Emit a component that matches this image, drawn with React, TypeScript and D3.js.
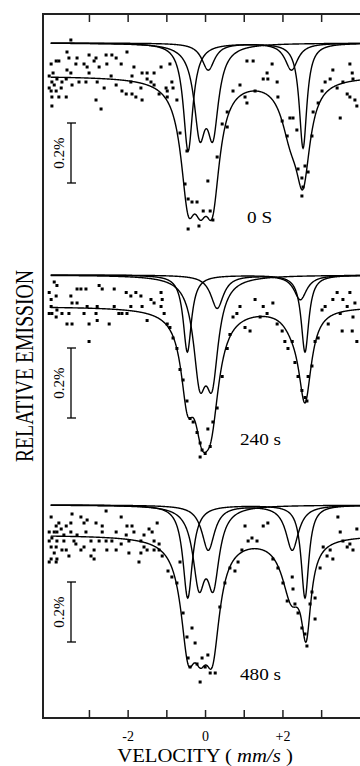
import * as d3 from "d3";

// velocity axis (mm/s)
const velocityTicks = [-3, -2, -1, 0, 1, 2, 3];
const velocityLabelValues = [-2, 0, 2];
const velocityLabels = ["-2", "0", "+2"];

// spectra, top to bottom
const panelLabels = ["0 S", "240 s", "480 s"];
// envelope drawn below the component curves (%)
const envelopeOffsets = [0.11, 0.09, 0.1];

// fitted Lorentzian lines: [center mm/s, depth %, half width mm/s], two per component
const p0Lines = [
  [[-0.45, 0.36, 0.15], [2.52, 0.35, 0.12]],
  [[-0.15, 0.27, 0.18], [0.19, 0.27, 0.18]],
  [[0.07, 0.09, 0.2], [2.22, 0.09, 0.2]],
];
const p1Lines = [
  [[-0.47, 0.22, 0.13], [2.57, 0.22, 0.12]],
  [[-0.15, 0.26, 0.2], [0.17, 0.26, 0.2]],
  [[0.3, 0.095, 0.2], [2.45, 0.07, 0.2]],
];
const p2Lines = [
  [[-0.46, 0.31, 0.15], [2.57, 0.31, 0.12]],
  [[-0.17, 0.24, 0.19], [0.2, 0.24, 0.19]],
  [[0.07, 0.15, 0.2], [2.24, 0.15, 0.2]],
];

// total fit (envelope) lines, same layout
const p0Envelope = [[-0.45, 0.34, 0.23], [-0.13, 0.24, 0.23], [0.18, 0.34, 0.23], [2.52, 0.3, 0.22], [2.2, 0.15, 0.3]];
const p1Envelope = [[-0.47, 0.2, 0.2], [-0.1, 0.24, 0.25], [0.15, 0.24, 0.25], [2.57, 0.256, 0.2], [2.25, 0.03, 0.3]];
const p2Envelope = [[-0.45, 0.317, 0.23], [-0.13, 0.22, 0.23], [0.18, 0.317, 0.23], [2.6, 0.277, 0.15], [2.22, 0.19, 0.3]];

// measured points [velocity, relative emission %]
const p0Dots = [
  [-3.58, -0.03], [-3.53, -0.05], [-3.32, -0.05], [-3.01, -0.04], [-2.83, -0.05], [-2.57, -0.04], [-2.42, -0.04],
  [-2.31, -0.05], [-2.03, -0.03], [-3.99, -0.07], [-3.86, -0.06], [-3.79, -0.06], [-3.35, -0.07], [-3.14, -0.07],
  [-3.06, -0.08], [-2.88, -0.06], [-2.75, -0.08], [-2.55, -0.07], [-2.18, -0.07], [-1.85, -0.08], [-1.15, -0.08],
  [-3.58, -0.09], [-3.48, -0.1], [-3.01, -0.1], [-2.44, -0.11], [-1.9, -0.11], [-1.51, -0.1], [-1.33, -0.1],
  [-4.04, -0.11], [-3.97, -0.13], [-4.04, -0.15], [-3.99, -0.16], [-3.91, -0.14], [-3.84, -0.12], [-3.71, -0.13],
  [-3.6, -0.12], [-3.73, -0.15], [-3.86, -0.16], [-3.79, -0.18], [-3.97, -0.18], [-3.6, -0.18], [-3.45, -0.14],
  [-3.27, -0.13], [-3.09, -0.13], [-2.8, -0.13], [-2.62, -0.15], [-2.31, -0.14], [-2.16, -0.16], [-2.05, -0.17],
  [-1.93, -0.13], [-1.9, -0.17], [-1.67, -0.15], [-1.8, -0.18], [-1.64, -0.19], [-1.51, -0.12], [-1.41, -0.13],
  [-1.33, -0.14], [-1.2, -0.17], [-1.02, -0.15], [-0.87, -0.13], [-2.83, -0.19], [-2.7, -0.22], [-3.97, -0.21],
  [-0.99, -0.18], [-3.48, 0.01], [-3.94, -0.1], [-1.64, -0.1],
  [-0.99, -0.16], [-0.92, -0.07], [-0.84, -0.15], [-0.74, -0.19], [-0.66, -0.3], [-0.48, -0.36], [-0.53, -0.47],
  [-0.45, -0.52], [-0.35, -0.53], [-0.45, -0.62], [-0.22, -0.53], [-0.17, -0.61], [-0.06, -0.56], [0.06, -0.46],
  [0.12, -0.56], [0.19, -0.59], [0.3, -0.38], [0.43, -0.27], [0.56, -0.23], [0.56, -0.28], [0.71, -0.16],
  [0.89, -0.14], [1.02, -0.18], [1.07, -0.2], [1.07, -0.06], [1.23, -0.06], [1.28, -0.16], [1.49, -0.12],
  [1.59, -0.1], [1.61, -0.12], [1.72, -0.07], [1.85, -0.13], [1.87, -0.18], [1.98, -0.26], [2.11, -0.31],
  [2.18, -0.25], [2.26, -0.25], [2.36, -0.29], [2.39, -0.42], [2.49, -0.45], [2.52, -0.48], [2.49, -0.51],
  [2.57, -0.41], [2.65, -0.43], [2.75, -0.31], [2.78, -0.23], [2.91, -0.2], [3.01, -0.16], [3.09, -0.13],
  [3.22, -0.12], [3.29, -0.09], [3.4, -0.15], [3.48, -0.25], [3.55, -0.13], [3.66, -0.17], [3.73, -0.07],
  [3.79, -0.1], [3.81, -0.12], [3.86, -0.19], [3.91, -0.21], [3.73, -0.18],
];
const p1Dots = [
  [-3.91, -0.02], [-3.84, -0.03], [-3.32, -0.04], [-3.22, -0.04], [-3.09, -0.04], [-2.75, -0.03], [-2.67, -0.04],
  [-2.36, -0.04], [-2.05, -0.05], [-1.93, -0.06], [-1.8, -0.05], [-1.67, -0.06], [-1.41, -0.07], [-1.15, -0.05],
  [-1.12, -0.07], [-4.04, -0.05], [-3.86, -0.06], [-3.48, -0.06], [-3.99, -0.07], [-3.45, -0.08], [-3.32, -0.08],
  [-3.06, -0.09], [-2.8, -0.09], [-2.36, -0.09], [-1.93, -0.09], [-1.64, -0.09], [-1.33, -0.08], [-1.15, -0.09],
  [-3.99, -0.09], [-4.04, -0.11], [-3.97, -0.11], [-3.84, -0.1], [-3.71, -0.11], [-3.86, -0.12], [-3.53, -0.11],
  [-3.14, -0.11], [-2.83, -0.11], [-2.24, -0.11], [-2.16, -0.11], [-2.03, -0.11], [-3.58, -0.14], [-3.45, -0.14],
  [-3.01, -0.14], [-2.8, -0.13], [-2.49, -0.14], [-1.51, -0.13], [-3.01, -0.19], [-1.07, -0.11],
  [-0.99, -0.14], [-0.92, -0.15], [-0.84, -0.18], [-0.74, -0.21], [-0.66, -0.27], [-0.58, -0.3], [-0.48, -0.36],
  [-0.4, -0.41], [-0.32, -0.42], [-0.22, -0.45], [-0.14, -0.48], [-0.09, -0.5], [-0.14, -0.52], [-0.01, -0.51],
  [0.06, -0.44], [0.12, -0.49], [0.19, -0.42], [0.3, -0.38], [0.43, -0.29], [0.56, -0.21], [0.63, -0.17],
  [0.71, -0.12], [0.81, -0.11], [0.89, -0.09], [1.02, -0.15], [1.15, -0.16], [1.28, -0.07], [1.41, -0.12],
  [1.49, -0.09], [1.59, -0.11], [1.74, -0.08], [1.85, -0.14], [1.98, -0.16], [2.05, -0.19], [2.13, -0.21],
  [2.24, -0.19], [2.31, -0.25], [2.39, -0.29], [2.49, -0.33], [2.57, -0.35], [2.62, -0.36], [2.65, -0.29],
  [2.75, -0.26], [2.83, -0.19], [2.91, -0.18], [3.01, -0.1], [3.09, -0.09], [3.17, -0.14], [3.29, -0.07],
  [3.4, -0.05], [3.48, -0.11], [3.55, -0.07], [3.66, -0.09], [3.73, -0.05], [3.79, -0.16], [3.81, -0.12],
  [3.91, -0.19], [3.86, -0.08], [3.53, -0.16],
];
const p2Dots = [
  [-3.45, -0.03], [-2.57, -0.02], [-3.99, -0.04], [-3.79, -0.06], [-3.86, -0.07], [-3.6, -0.07], [-3.48, -0.06],
  [-3.22, -0.04], [-3.14, -0.06], [-3.06, -0.05], [-2.83, -0.06], [-2.67, -0.07], [-2.18, -0.04], [-1.9, -0.07],
  [-2.03, -0.07], [-1.25, -0.06], [-4.04, -0.09], [-3.91, -0.09], [-3.84, -0.09], [-3.73, -0.08], [-3.66, -0.1],
  [-3.48, -0.09], [-3.32, -0.1], [-3.09, -0.09], [-2.67, -0.09], [-2.31, -0.09], [-2.05, -0.1], [-1.85, -0.09],
  [-1.59, -0.1], [-1.46, -0.08], [-1.38, -0.09], [-4.04, -0.12], [-3.97, -0.11], [-3.84, -0.12], [-3.66, -0.12],
  [-3.4, -0.12], [-3.99, -0.14], [-3.86, -0.14], [-3.6, -0.15], [-3.35, -0.13], [-3.14, -0.14], [-2.96, -0.12],
  [-2.75, -0.12], [-2.57, -0.12], [-2.42, -0.12], [-2.18, -0.13], [-1.98, -0.12], [-1.67, -0.12], [-1.59, -0.14],
  [-1.33, -0.12], [-1.2, -0.13], [-3.91, -0.16], [-3.71, -0.15], [-3.53, -0.17], [-3.99, -0.18], [-3.84, -0.18],
  [-3.22, -0.15], [-2.96, -0.17], [-2.88, -0.15], [-2.55, -0.15], [-2.31, -0.15], [-1.98, -0.16], [-1.67, -0.16],
  [-1.51, -0.15], [-1.33, -0.15], [-1.2, -0.15], [-1.72, -0.19], [-1.12, -0.17], [-4.04, -0.19], [-3.86, -0.19],
  [-2.88, -0.18],
  [-0.97, -0.22], [-0.87, -0.24], [-0.74, -0.26], [-0.66, -0.19], [-0.58, -0.36], [-0.48, -0.44], [-0.45, -0.51],
  [-0.4, -0.54], [-0.35, -0.41], [-0.27, -0.46], [-0.22, -0.53], [-0.14, -0.59], [-0.09, -0.51], [-0.01, -0.54],
  [0.06, -0.5], [0.12, -0.56], [0.25, -0.56], [0.37, -0.34], [0.5, -0.26], [0.63, -0.21], [0.76, -0.22],
  [0.84, -0.19], [0.94, -0.15], [1.02, -0.07], [1.1, -0.12], [1.2, -0.11], [1.33, -0.12], [1.49, -0.07],
  [1.61, -0.06], [1.74, -0.18], [1.87, -0.21], [2.0, -0.26], [2.11, -0.32], [2.24, -0.24], [2.26, -0.28],
  [2.31, -0.33], [2.39, -0.36], [2.49, -0.41], [2.57, -0.43], [2.62, -0.47], [2.7, -0.33], [2.75, -0.29],
  [2.83, -0.31], [2.83, -0.38], [2.96, -0.21], [3.04, -0.14], [3.14, -0.17], [3.22, -0.15], [3.29, -0.18],
  [3.42, -0.04], [3.48, -0.09], [3.55, -0.12], [3.66, -0.14], [3.73, -0.13], [3.81, -0.15], [3.91, -0.08],
];

const panelLines = [p0Lines, p1Lines, p2Lines];
const panelEnvelopes = [p0Envelope, p1Envelope, p2Envelope];
const panelDots = [p0Dots, p1Dots, p2Dots];

// layout
const W = 360;
const H = 766;
const left = 43;
const top = 14;
const bottom = 718;
const pxPerUnit = 38.7;
const panelBase = [43, 275, 505]; // y of component baseline
const pxPerPercent = [300, 350, 300];
const barTop = [123, 348, 582];
const labelPos = [[247, 223], [240, 445], [240, 680]];
const font = "'Liberation Serif', 'Times New Roman', serif";

const x = d3.scaleLinear().domain([-4.2, 4.3]).range([left, left + 8.5 * pxPerUnit]);
const samples = d3.range(-4.0, 4.3, 0.01);

const lor = (v: number, l: number[]) => l[1] / (1 + ((v - l[0]) / l[2]) ** 2);
const sumLines = (v: number, ls: number[][]) => ls.reduce((s, l) => s + lor(v, l), 0);

const Panel = ({ i }: { i: number }) => {
  const y = d3.scaleLinear().domain([0, -1]).range([panelBase[i], panelBase[i] + pxPerPercent[i]]);
  const line = d3.line<[number, number]>().x((d) => x(d[0])).y((d) => y(d[1]));
  const compPaths = panelLines[i].map((c) =>
    line(samples.map((v) => [v, -sumLines(v, c)] as [number, number]))
  );
  const envPath = line(
    samples.map((v) => [v, -envelopeOffsets[i] - sumLines(v, panelEnvelopes[i])] as [number, number])
  );
  const b0 = barTop[i];
  const b1 = b0 + 0.2 * pxPerPercent[i];
  return (
    <g>
      {compPaths.map((p, k) => (
        <path key={k} d={p || ""} fill="none" stroke="#000" strokeWidth={1.4} />
      ))}
      <path d={envPath || ""} fill="none" stroke="#000" strokeWidth={1.4} />
      {panelDots[i].map((d, k) => (
        <rect key={k} x={x(d[0]) - 1.5} y={y(d[1]) - 1.5} width={3} height={3} fill="#000" />
      ))}
      <g stroke="#000" strokeWidth={1.3}>
        <line x1={71} x2={71} y1={b0} y2={b1} />
        <line x1={67} x2={76} y1={b0} y2={b0} />
        <line x1={67} x2={76} y1={b1} y2={b1} />
      </g>
      <text
        transform={`translate(64,${(b0 + b1) / 2}) rotate(-90)`}
        textAnchor="middle"
        fontSize={15}
        fontFamily={font}
      >
        0.2%
      </text>
      <text
        transform={`translate(${labelPos[i][0]},${labelPos[i][1]}) scale(1.2,1)`}
        fontSize={16}
        fontFamily={font}
      >
        {panelLabels[i]}
      </text>
    </g>
  );
};

export default function App() {
  return (
    <svg
      width={W}
      height={H}
      style={{ position: "absolute", left: 0, top: 0, background: "#fff" }}
    >
      <rect width={W} height={H} fill="#fff" />
      {[0, 1, 2].map((i) => (
        <Panel key={i} i={i} />
      ))}
      <path d={`M${W + 10},${top}H${left}V${bottom}H${W + 10}`} fill="none" stroke="#222" strokeWidth={2} />
      <g stroke="#222" strokeWidth={1.5}>
        {velocityTicks.map((t) => (
          <g key={t}>
            <line x1={x(t)} x2={x(t)} y1={top} y2={top + 8} />
            <line x1={x(t)} x2={x(t)} y1={bottom} y2={bottom - 8} />
          </g>
        ))}
      </g>
      {velocityLabelValues.map((t, k) => (
        <text key={t} x={x(t)} y={741} textAnchor="middle" fontSize={14} fontFamily={font}>
          {velocityLabels[k]}
        </text>
      ))}
      <text transform="translate(205,762) scale(1.15,1)" textAnchor="middle" fontSize={18} fontFamily={font}>
        VELOCITY ({" "}
        <tspan fontStyle="italic">mm/s</tspan> )
      </text>
      <text
        transform="translate(33,366) rotate(-90) scale(1.16,1.5)"
        textAnchor="middle"
        fontSize={17}
        fontFamily={font}
      >
        RELATIVE EMISSION
      </text>
    </svg>
  );
}
